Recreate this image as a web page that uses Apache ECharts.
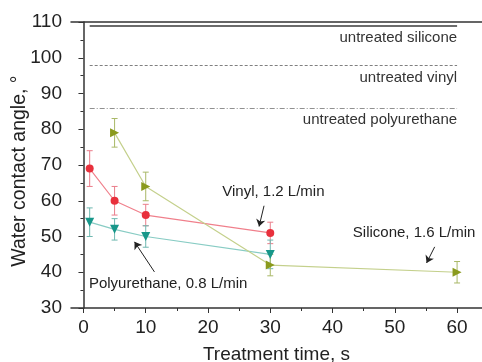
<!DOCTYPE html>
<html>
<head>
<meta charset="utf-8">
<script src="https://cdn.jsdelivr.net/npm/echarts@6/dist/echarts.min.js"></script>
<style>html,body{margin:0;padding:0;background:#fff}#c{width:482px;height:362px}</style>
</head>
<body>
<div id="c"></div>
<script>
// ---- data ----
var vinylX = [1, 5, 10, 30];
var vinylY = [69, 60, 56, 51];
var vinylErr = [5, 4, 3, 3];
var puX = [1, 5, 10, 30];
var puY = [54, 52, 50, 45];
var puErr = [4, 3, 3, 4];
var silX = [5, 10, 30, 60];
var silY = [79, 64, 42, 40];
var silErr = [4, 4, 3, 3];
var refNames = ['untreated silicone', 'untreated vinyl', 'untreated polyurethane'];
var refValues = [109, 98, 86];
var refRange = [1, 60];
var xTickValues = [0, 10, 20, 30, 40, 50, 60];
var xMinorValues = [5, 15, 25, 35, 45, 55];
var notes = [
  {text: 'Vinyl, 1.2 L/min', at: [30.5, 62.5], from: [29.0, 58.6], to: [28.2, 52.8]},
  {text: 'Polyurethane, 0.8 L/min', at: [13.6, 36.7], from: [11.4, 40.1], to: [8.2, 48.5]},
  {text: 'Silicone, 1.6 L/min', at: [53.1, 51], from: [56.4, 47.1], to: [55.1, 42.6]}
];

var FONT = 'Liberation Sans, Arial, sans-serif';
function pairs(xs, ys) { return xs.map(function (x, i) { return [x, ys[i]]; }); }
function errData(xs, ys, es) { return xs.map(function (x, i) { return [x, ys[i] - es[i], ys[i] + es[i]]; }); }
function errSeries(xs, ys, es, color) {
  return {
    type: 'custom', silent: true, z: 3,
    data: errData(xs, ys, es),
    encode: {x: 0, y: [1, 2]},
    renderItem: function (params, api) {
      var lo = api.coord([api.value(0), api.value(1)]);
      var hi = api.coord([api.value(0), api.value(2)]);
      var w = 3;
      var st = {stroke: color, lineWidth: 1};
      return {type: 'group', children: [
        {type: 'line', shape: {x1: lo[0], y1: lo[1], x2: hi[0], y2: hi[1]}, style: st},
        {type: 'line', shape: {x1: lo[0] - w, y1: lo[1], x2: lo[0] + w, y2: lo[1]}, style: st},
        {type: 'line', shape: {x1: hi[0] - w, y1: hi[1], x2: hi[0] + w, y2: hi[1]}, style: st}
      ]};
    }
  };
}
var refStyles = [
  {type: 'solid', color: '#3a3a3a', width: 1.5},
  {type: [3, 2], color: '#808080', width: 1},
  {type: [5, 2, 1, 2], color: '#909090', width: 1}
];

var chart = echarts.init(document.getElementById('c'));
chart.setOption({
  animation: false,
  backgroundColor: '#fff',
  grid: {left: 71, top: 22, right: 0, bottom: 54, containLabel: false, outerBoundsMode: 'none'},
  xAxis: [
    {
      type: 'value', min: -2, max: 64, position: 'bottom',
      name: 'Treatment time, s', nameLocation: 'middle', nameGap: 37, nameMoveOverlap: false,
      nameTextStyle: {fontFamily: FONT, fontSize: 19, color: '#222'},
      axisLine: {lineStyle: {color: '#333', width: 1.5}},
      axisTick: {show: true, inside: false, length: 5, customValues: xTickValues, lineStyle: {color: '#333'}},
      axisLabel: {customValues: xTickValues, fontFamily: FONT, fontSize: 19, color: '#222', margin: 10},
      splitLine: {show: false}
    },
    {
      type: 'value', min: -2, max: 64, position: 'bottom',
      axisLine: {show: false},
      axisTick: {show: true, length: 3, customValues: xMinorValues, lineStyle: {color: '#333'}},
      axisLabel: {show: false}, splitLine: {show: false}
    },
    {
      type: 'value', min: -2, max: 64, position: 'top',
      axisLine: {show: true, lineStyle: {color: '#333', width: 1.5}},
      axisTick: {show: false}, axisLabel: {show: false}, splitLine: {show: false}
    }
  ],
  yAxis: {
    type: 'value', min: 30, max: 110, interval: 10,
    name: 'Water contact angle, °', nameLocation: 'middle', nameGap: 41, nameMoveOverlap: false,
    nameTextStyle: {fontFamily: FONT, fontSize: 19.5, color: '#222', padding: [0, 12, 0, 0]},
    axisLine: {show: true, lineStyle: {color: '#333', width: 1.5}},
    axisTick: {show: true, length: 5, lineStyle: {color: '#333'}},
    minorTick: {show: true, splitNumber: 2, length: 3, lineStyle: {color: '#333'}},
    axisLabel: {fontFamily: FONT, fontSize: 19, color: '#222', margin: 9},
    splitLine: {show: false}
  },
  series: [
    errSeries(vinylX, vinylY, vinylErr, '#ea7d8a'),
    errSeries(puX, puY, puErr, '#6fb8b0'),
    errSeries(silX, silY, silErr, '#a9b867'),
    {
      type: 'line', name: 'Vinyl', data: pairs(vinylX, vinylY), z: 4,
      symbol: 'circle', symbolSize: 8,
      itemStyle: {color: '#e8303c'}, lineStyle: {color: '#f0808c', width: 1.2}
    },
    {
      type: 'line', name: 'Polyurethane', data: pairs(puX, puY), z: 4,
      symbol: 'triangle', symbolSize: 9, symbolRotate: 180,
      itemStyle: {color: '#17978a'}, lineStyle: {color: '#88ccc4', width: 1.2}
    },
    {
      type: 'line', name: 'Silicone', data: pairs(silX, silY), z: 4,
      symbol: 'triangle', symbolSize: 9, symbolRotate: -90,
      itemStyle: {color: '#8a9a1c'}, lineStyle: {color: '#c4d08c', width: 1.2}
    },
    {
      type: 'line', name: 'annotations', data: [], silent: true,
      markLine: {
        silent: true, symbol: 'none', animation: false,
        data: refValues.map(function (v, i) {
          return [
            {coord: [refRange[0], v], lineStyle: refStyles[i],
             label: {show: true, position: 'insideEndBottom', formatter: refNames[i], distance: [0, 5],
                     fontFamily: FONT, fontSize: 15, color: '#333'}},
            {coord: [refRange[1], v]}
          ];
        }).concat(notes.map(function (n) {
          return [
            {coord: n.from, symbol: 'none', lineStyle: {type: 'solid', color: '#222', width: 1}, label: {show: false}},
            {coord: n.to, symbol: 'arrow', symbolSize: 7}
          ];
        }))
      },
      markPoint: {
        silent: true, symbol: 'circle', symbolSize: 1, itemStyle: {color: 'rgba(0,0,0,0)'},
        data: notes.map(function (n) {
          return {coord: n.at, label: {show: true, position: 'inside', formatter: n.text,
                  fontFamily: FONT, fontSize: 15, color: '#222'}};
        })
      }
    }
  ]
});
</script>
</body>
</html>
